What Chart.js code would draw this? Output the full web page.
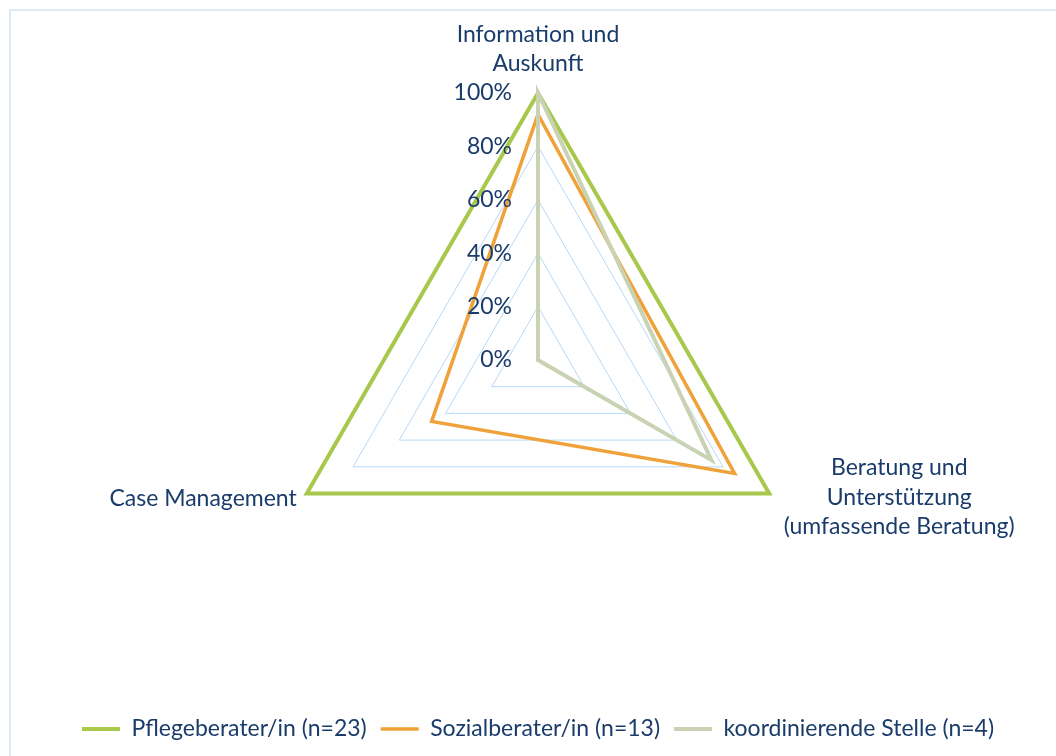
<!DOCTYPE html>
<html>
<head>
<meta charset="utf-8">
<script src="https://cdn.jsdelivr.net/npm/chart.js@4"></script>
<style>
  html, body { margin: 0; padding: 0; background: #fff; overflow: hidden; }
  #wrap { position: relative; width: 1056px; height: 756px; }
  #frame { position: absolute; left: 9px; top: 9px; width: 1100px; height: 800px;
           border: 2px solid #DCEAF7; pointer-events: none; }
</style>
</head>
<body>
<div id="wrap">
  <canvas id="radarChart" width="1056" height="756"></canvas>
  <div id="frame"></div>
</div>
<script>
// Daten
const categories = [
    ['Information und', 'Auskunft'],
    ['Beratung und', 'Unterstützung', '(umfassende Beratung)'],
    ['Case Management']
];
const seriesNames = ['Pflegeberater/in (n=23)', 'Sozialberater/in (n=13)', 'koordinierende Stelle (n=4)'];
const pflegeValues = [100, 100, 100];
const sozialValues = [92, 85, 46];
const koordValues = [100, 75, 0];
const tickValues = [0, 20, 40, 60, 80, 100];

const textColor = '#1A3C6B';
const fontFamily = 'Lato, "Open Sans", sans-serif';
const fontSize = 23;

// Achsenbeschriftungen und Ticks selbst zeichnen
const axisTextPlugin = {
    id: 'axisText',
    afterDatasetsDraw(chart) {
        const scale = chart.scales.r;
        const ctx = chart.ctx;
        ctx.save();
        ctx.fillStyle = textColor;
        ctx.font = fontSize + 'px ' + fontFamily;

        // Tick-Beschriftungen links der senkrechten Achse
        ctx.textAlign = 'right';
        ctx.textBaseline = 'middle';
        scale.ticks.forEach(t => {
            const d = scale.getDistanceFromCenterForValue(t.value);
            ctx.fillText(t.value + '%', scale.xCenter - 26, scale.yCenter - d);
        });

        // Kategorien
        const lh = 29.5;
        categories.forEach((lines, i) => {
            const p = scale.getPointPositionForValue(i, scale.max);
            if (i === 0) {
                ctx.textAlign = 'center';
                lines.forEach((s, k) => {
                    ctx.fillText(s, p.x, p.y - 29 - (lines.length - 1 - k) * lh);
                });
            } else if (i === 1) {
                ctx.textAlign = 'center';
                lines.forEach((s, k) => {
                    ctx.fillText(s, p.x + 130, p.y + 4 + (k - 1) * lh);
                });
            } else {
                ctx.textAlign = 'right';
                lines.forEach((s, k) => {
                    ctx.fillText(s, p.x - 10, p.y + 5 + k * lh);
                });
            }
        });
        ctx.restore();
    }
};

const ctx = document.getElementById('radarChart').getContext('2d');
const radarChart = new Chart(ctx, {
    type: 'radar',
    data: {
        labels: categories,
        datasets: [{
            label: seriesNames[0],
            data: pflegeValues,
            borderColor: '#A8C84C',
            borderWidth: 4,
            order: 2
        }, {
            label: seriesNames[1],
            data: sozialValues,
            borderColor: '#EFA23A',
            borderWidth: 3.5,
            order: 1
        }, {
            label: seriesNames[2],
            data: koordValues,
            borderColor: '#C9D2B2',
            borderWidth: 4,
            order: 0
        }]
    },
    options: {
        responsive: false,
        animation: false,
        devicePixelRatio: 1,
        layout: {
            padding: { top: 93, bottom: 5.5, left: 20, right: 0 }
        },
        elements: {
            point: { radius: 0, hoverRadius: 0 },
            line: { fill: false, tension: 0, borderJoinStyle: 'miter', borderCapStyle: 'round' }
        },
        plugins: {
            tooltip: { enabled: false },
            legend: {
                position: 'bottom',
                title: {
                    display: true,
                    text: '',
                    font: { size: 10 },
                    padding: { top: 32, bottom: 32.5 }
                },
                labels: {
                    usePointStyle: true,
                    pointStyle: 'line',
                    pointStyleWidth: 38,
                    padding: 14,
                    color: textColor,
                    font: { family: fontFamily, size: fontSize },
                    sort: (a, b) => a.datasetIndex - b.datasetIndex
                }
            }
        },
        scales: {
            r: {
                min: 0,
                max: 100,
                ticks: {
                    display: false,
                    stepSize: 20
                },
                angleLines: { display: false },
                grid: { color: '#B9D8F5', lineWidth: 1 },
                pointLabels: { display: false }
            }
        }
    },
    plugins: [axisTextPlugin]
});
</script>
</body>
</html>
